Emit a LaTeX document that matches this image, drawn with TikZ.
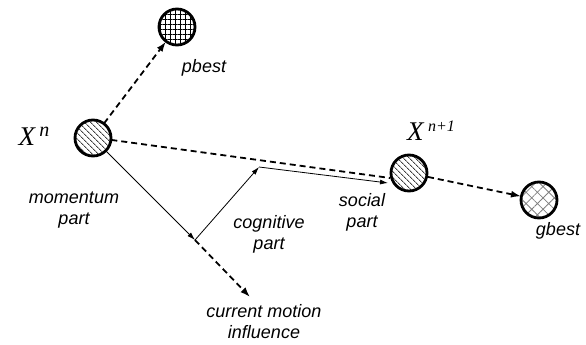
\documentclass[tikz,border=0pt]{standalone}
\usepackage{fontspec}
\setmainfont{Liberation Sans}
\newfontfamily\timesfont{Liberation Serif}
\usetikzlibrary{patterns.meta, arrows.meta}

\tikzset{
  particle/.style={circle, draw, line width=2.8pt, minimum size=36pt, inner sep=0pt},
  lbl/.style={font=\fontsize{18}{21}\selectfont\itshape, align=center},
  xlbl/.style={font=\timesfont\itshape\fontsize{27}{27}\selectfont},
  dasharrow/.style={-{Latex[length=10pt, width=7pt]}, line width=1.8pt, dash pattern=on 6pt off 4pt},
  solidarrow/.style={-{Latex[length=8pt, width=5pt]}, line width=0.8pt},
}

\begin{document}
\begin{tikzpicture}[x=1pt, y=-1pt]
  \useasboundingbox (0,0) rectangle (586,345);

  % particles
  \node[particle, pattern={Lines[angle=-45, distance=4pt, line width=0.9pt]}, pattern color=darkgray] (xn) at (93,138) {};
  \node[particle, pattern={Hatch[angle=0, distance=5pt, line width=1pt]}, pattern color=black] (pbest) at (177,27) {};
  \node[particle, pattern={Lines[angle=-45, distance=4pt, line width=0.9pt]}, pattern color=darkgray] (xnn) at (409,173) {};
  \node[particle, pattern={Hatch[angle=45, distance=8pt, line width=0.8pt]}, pattern color=gray] (gbest) at (539,200) {};

  \coordinate (junc) at (195,240);
  \coordinate (cogn) at (259,167);
  \coordinate (soc) at (388,183);
  \coordinate (curr) at (250,297);

  % labels
  \node[xlbl] (xnlbl) at (34,136) {X\,\raisebox{9pt}{\fontsize{20}{20}\selectfont n}};
  \node[xlbl] (xnnlbl) at (431,131) {X\,\raisebox{9pt}{\fontsize{16}{16}\selectfont n+1}};
  \node[lbl] (pbestlbl) at (204,68) {pbest};
  \node[lbl] (gbestlbl) at (558,231) {gbest};
  \node[lbl] (momlbl) at (74,210) {momentum\\part};
  \node[lbl] (coglbl) at (269,234) {cognitive\\part};
  \node[lbl] (soclbl) at (362,212) {social\\part};
  \node[lbl] (currlbl) at (264,322) {current motion\\influence};

  % moves
  \draw[dasharrow] (xn) -- (pbest);
  \draw[line width=1.8pt, dash pattern=on 6pt off 4pt] (xn.-6) -- (xnn.195);
  \draw[dasharrow] (xnn) -- (gbest);
  \draw[solidarrow] (xn) -- (junc);
  \draw[solidarrow] (junc) -- (cogn);
  \draw[solidarrow] (cogn) -- (soc);
  \draw[dasharrow] (junc) -- (curr);
\end{tikzpicture}
\end{document}
